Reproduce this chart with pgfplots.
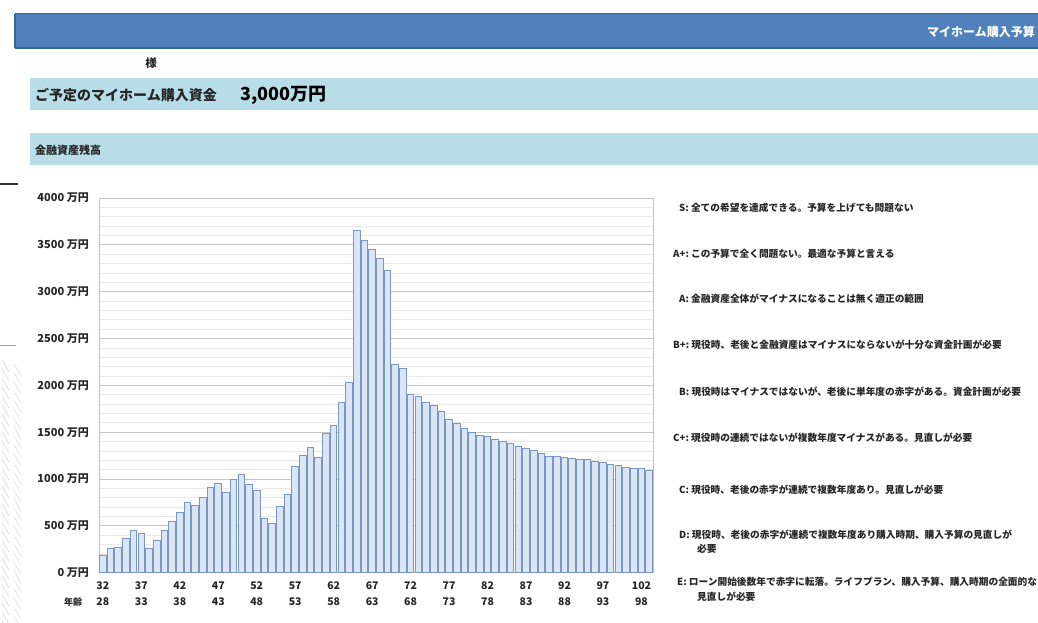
\documentclass[border=0pt]{standalone}
\usepackage{fontspec}
\setmainfont{Noto Sans CJK JP}
\usepackage{pgfplots}
\pgfplotsset{compat=1.18}
\usepackage{pgfplotstable}

\definecolor{headblue}{HTML}{4F81BD}
\definecolor{headborder}{HTML}{3A6496}
\definecolor{band}{HTML}{B7DDE8}
\definecolor{barfill}{HTML}{DBE6F5}
\definecolor{barline}{HTML}{7A96C4}
\definecolor{axgray}{HTML}{C0C0C0}
\definecolor{txt}{HTML}{262626}

\pgfplotstableread{
age val
32 180
33 260
34 270
35 365
36 450
37 420
38 260
39 340
40 447
41 543
42 638
43 752
44 716
45 798
46 908
47 957
48 851
49 996
50 1046
51 943
52 879
53 578
54 525
55 702
56 837
57 1131
58 1255
59 1333
60 1227
61 1489
62 1571
63 1812
64 2030
65 3655
66 3545
67 3450
68 3355
69 3230
70 2220
71 2175
72 1905
73 1880
74 1819
75 1784
76 1723
77 1635
78 1589
79 1536
80 1494
81 1468
82 1454
83 1426
84 1401
85 1377
86 1348
87 1323
88 1300
89 1270
90 1241
91 1241
92 1227
93 1217
94 1213
95 1206
96 1191
97 1174
98 1160
99 1143
100 1121
101 1117
102 1110
103 1096
}\assets

\begin{document}
\begin{tikzpicture}
\useasboundingbox (0,0) rectangle (1038pt,-622pt);
\fill[white] (0,0) rectangle (1038pt,-622pt);

% header bar
\begin{scope}
\clip (0,0) rectangle (1038pt,-622pt);
\fill[headblue] (15pt,-13.5pt) rectangle (1040pt,-48pt);
\draw[headborder, line width=1.2pt] (15pt,-13.5pt) -- (1040pt,-13.5pt);
\draw[headborder, line width=1.2pt] (15pt,-48pt) -- (1040pt,-48pt);
\draw[headborder, line width=1.2pt] (15pt,-13.5pt) -- (15pt,-48pt);
\end{scope}
\node[anchor=east, text=white, font=\bfseries\fontsize{12}{14}\selectfont, inner sep=0pt] at (1035pt,-31.5pt) {マイホーム購入予算};

\node[anchor=center, text=txt, font=\bfseries\fontsize{11.5}{13}\selectfont, inner sep=0pt] at (151pt,-63pt) {様};

% bands
\fill[band] (30pt,-78pt) rectangle (1038pt,-110pt);
\node[anchor=west, text=txt, font=\bfseries\fontsize{14}{16}\selectfont, inner sep=0pt] at (35pt,-95pt) {ご予定のマイホーム購入資金};
\node[anchor=west, text=black, font=\bfseries\fontsize{18}{20}\selectfont, inner sep=0pt] at (240pt,-95pt) {3,000万円};
\fill[band] (30pt,-133pt) rectangle (1038pt,-165pt);
\node[anchor=west, text=txt, font=\bfseries\fontsize{11}{13}\selectfont, inner sep=0pt] at (35pt,-150pt) {金融資産残高};

% left decorations
\draw[black!80, line width=1.2pt] (0pt,-184pt) -- (18pt,-184pt);
\draw[headblue!70, line width=1pt] (0pt,-345pt) -- (16pt,-345pt);
\begin{scope}
\clip (0pt,-360pt) rectangle (30pt,-622pt);
\foreach \i in {0,...,30} {
  \draw[gray!25, line width=0.8pt] (2pt,-360pt-\i*9pt) -- (9pt,-372pt-\i*9pt);
  \draw[gray!20, line width=0.8pt] (14pt,-364pt-\i*9pt) -- (21pt,-376pt-\i*9pt);
}
\end{scope}

% legend texts
\tikzset{lg/.style={anchor=west, text=txt, font=\bfseries\fontsize{9.7}{11}\selectfont, inner sep=0pt}}
\node[lg] at (679pt,-208pt) {S:\ 全ての希望を達成できる。予算を上げても問題ない};
\node[lg] at (673pt,-254pt) {A+:\ この予算で全く問題ない。最適な予算と言える};
\node[lg] at (679pt,-299pt) {A:\ 金融資産全体がマイナスになることは無く適正の範囲};
\node[lg] at (673pt,-345pt) {B+:\ 現役時、老後と金融資産はマイナスにならないが十分な資金計画が必要};
\node[lg] at (679pt,-392pt) {B:\ 現役時はマイナスではないが、老後に単年度の赤字がある。資金計画が必要};
\node[lg] at (673pt,-438pt) {C+:\ 現役時の連続ではないが複数年度マイナスがある。見直しが必要};
\node[lg] at (679pt,-490pt) {C:\ 現役時、老後の赤字が連続で複数年度あり。見直しが必要};
\node[lg] at (679pt,-535pt) {D:\ 現役時、老後の赤字が連続で複数年度あり購入時期、購入予算の見直しが};
\node[lg] at (697pt,-549pt) {必要};
\node[lg] at (677pt,-582pt) {E:\ ローン開始後数年で赤字に転落。ライフプラン、購入予算、購入時期の全面的な};
\node[lg] at (697pt,-597pt) {見直しが必要};

\node[anchor=center, text=txt, font=\bfseries\fontsize{9}{11}\selectfont, inner sep=0pt] at (73pt,-602pt) {年齢};

\begin{axis}[
  at={(99pt,-572.7pt)}, anchor=south west,
  scale only axis, width=554pt, height=374.7pt,
  xmin=31.5, xmax=103.5, ymin=0, ymax=4000,
  ybar, bar width=6.6pt,
  axis line style={draw=axgray, line width=1pt},
  major tick length=0pt, minor tick length=0pt,
  ytick={0,500,...,4000},
  minor y tick num=4,
  ymajorgrids, yminorgrids,
  major grid style={draw=black!22, line width=0.9pt},
  minor grid style={draw=black!9, line width=0.7pt},
  /pgf/number format/assume math mode=true,
  yticklabel={\pgfmathprintnumber[1000 sep={},fixed]{\tick} 万円},
  yticklabel style={font=\bfseries\fontsize{11}{13}\selectfont, text=txt, inner sep=0pt, xshift=-10pt},
  xtick={32,37,...,102},
  xticklabels={{32\\28},{37\\33},{42\\38},{47\\43},{52\\48},{57\\53},{62\\58},{67\\63},{72\\68},{77\\73},{82\\78},{87\\83},{92\\88},{97\\93},{102\\98}},
  xticklabel style={align=center, font=\bfseries\fontsize{10.5}{15.6}\selectfont, text=txt, inner sep=0pt, anchor=north, yshift=-9pt},
]
\addplot[fill=barfill, draw=barline, line width=1pt] table[x=age,y=val]{\assets};
\end{axis}
\end{tikzpicture}
\end{document}
